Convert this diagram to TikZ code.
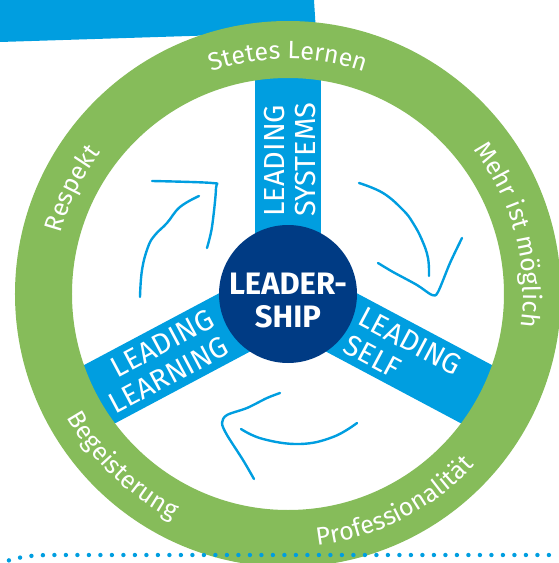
\documentclass[tikz,border=0pt]{standalone}
\usepackage{fontspec}
\setmainfont{Fira Sans}
\usetikzlibrary{decorations.text}
\definecolor{ringgreen}{HTML}{86BC5A}
\definecolor{leadblue}{HTML}{009EE0}
\definecolor{coreblue}{HTML}{003B84}
\newcommand\ringfont{\fontsize{25}{25}\selectfont}
\newcommand\spokefont{\fontsize{29}{31}\selectfont}
\newcommand\corefont{\bfseries\fontsize{31}{33}\selectfont}

\begin{document}
\begin{tikzpicture}[x=1pt, y=1pt,
    spoke/.style={fill=leadblue},
    spokelabel/.style={text=white, font=\spokefont, inner sep=0pt},
    ringlabel/.style={decorate, decoration={text along path, text align=center,
      text color=white, text={|\ringfont|#1}}},
    sketch/.style={draw=leadblue, line width=2.4pt, line cap=round, line join=round}]
  \clip (-288, -269) rectangle (271, 294);
  % band at the top left
  \fill[leadblue] (-288, 294) -- (26, 294) -- (28, 262) -- (-288, 252) -- cycle;
  % the three spokes
  \foreach \a in {90, -28, 208}
    \fill[spoke, rotate=\a] (0, -33) rectangle (240, 33);
  % ring and its values
  \draw[ringgreen, line width=57pt] (0, 0) circle[radius=244.5];
  \path[ringlabel=Stetes Lernen] (135:235) arc[start angle=135, end angle=45, radius=235];
  \path[ringlabel=Mehr ist möglich] (60:235) arc[start angle=60, end angle=-30, radius=235];
  \path[ringlabel=Respekt] (199:235) arc[start angle=199, end angle=109, radius=235];
  \path[ringlabel=Professionalität] (-108:253) arc[start angle=-108, end angle=-18, radius=253];
  \path[ringlabel=Begeisterung] (181:253) arc[start angle=181, end angle=271, radius=253];
  % core
  \node[circle, fill=coreblue, minimum size=138pt, inner sep=0pt] (core) at (0, 0) {};
  \node[text=white, font=\corefont, align=center, inner sep=0pt] (coretext)
    at ([yshift=-6.5pt]core.center) {LEADER-\\SHIP};
  % spoke labels
  \node[spokelabel, align=left, rotate=90, anchor=west] (systems) at (2, 77) {LEADING\\SYSTEMS};
  \node[spokelabel, align=left, rotate=-28, anchor=west] (self) at (-28:74) {LEADING\\SELF};
  \node[spokelabel, align=right, rotate=28, anchor=east] (learning) at (208:78) {LEADING\\LEARNING};
  % hand drawn arrows
  \draw[sketch] plot[smooth, tension=0.7] coordinates {(-148,-3) (-146,24) (-140,47) (-133,59) (-121,71) (-108,87) (-89,98)};
  \draw[sketch] plot[smooth, tension=0.5] coordinates {(-136,113) (-76,111) (-72,106) (-76,67) (-81,46)};
  \draw[sketch] plot[smooth, tension=0.7] coordinates {(71,111) (95,101) (115,84) (125,71) (134,54) (140,36) (141,18)};
  \draw[sketch] plot[smooth, tension=0.5] coordinates {(90,31) (105,22) (129,9) (144,-1) (150,2) (162,31) (174,56)};
  \draw[sketch] plot[smooth, tension=0.7] coordinates {(69,-129) (45,-143) (12,-150) (-25,-145) (-47,-135)};
  \draw[sketch] plot[smooth, tension=0.5] coordinates {(-8,-99) (-21,-104) (-41,-114) (-61,-121) (-66,-129) (-61,-141) (-45,-166) (-34,-185)};
  % dotted line at the bottom
  \draw[leadblue, line width=4.4pt, line cap=round, dash pattern=on 0pt off 11.5pt]
    (-290, -270) to[out=20, in=180] (-235, -261) -- (272, -261);
\end{tikzpicture}
\end{document}
